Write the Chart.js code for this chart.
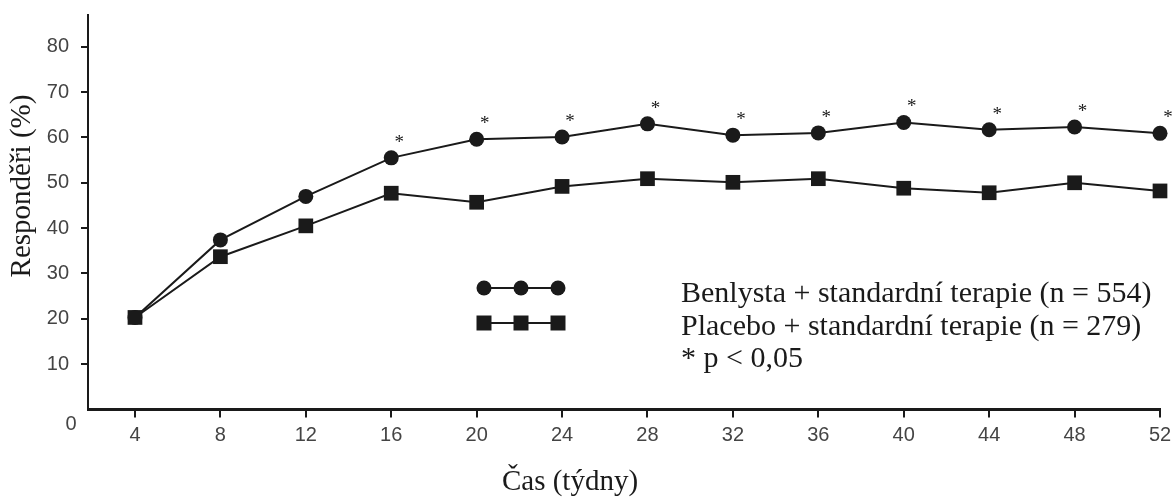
<!DOCTYPE html>
<html>
<head>
<meta charset="utf-8">
<script src="https://cdn.jsdelivr.net/npm/chart.js@4"></script>
<style>
  html, body { margin: 0; padding: 0; background: #fff; }
  #wrap { width: 1176px; height: 497px; position: relative; }
</style>
</head>
<body>
<div id="wrap"><canvas id="chart" width="1176" height="497"></canvas></div>
<script>
// ---- data ----
const weeks = [4, 8, 12, 16, 20, 24, 28, 32, 36, 40, 44, 48, 52];
const benlysta = [20.3, 37.4, 47.0, 55.5, 59.6, 60.1, 63.0, 60.5, 61.0, 63.3, 61.7, 62.3, 60.9];
const placebo = [20.3, 33.7, 40.5, 47.7, 45.7, 49.2, 50.9, 50.1, 50.9, 48.8, 47.8, 50.0, 48.2];
const significant = [0, 0, 0, 1, 1, 1, 1, 1, 1, 1, 1, 1, 1]; // * p < 0,05
const yTicks = [10, 20, 30, 40, 50, 60, 70, 80];

const legendLabels = [
  'Benlysta + standardní terapie (n = 554)',
  'Placebo + standardní terapie (n = 279)',
  '* p < 0,05'
];
const yTitle = 'Responděři (%)';
const xTitle = 'Čas (týdny)';

const INK = '#1a1a1a';
const SERIF = '"Liberation Serif", "Times New Roman", serif';
const SANS = '"Liberation Sans", Arial, sans-serif';

// titles, stars, legend, the lone "0" label
const extras = {
  id: 'extras',
  afterDraw(chart) {
    const { ctx, chartArea } = chart;
    ctx.save();
    ctx.fillStyle = INK;

    // stars above significant Benlysta points
    ctx.font = '19px ' + SERIF;
    ctx.textAlign = 'center';
    ctx.textBaseline = 'middle';
    chart.getDatasetMeta(0).data.forEach((p, i) => {
      if (significant[i]) ctx.fillText('*', p.x + 8, p.y - 15);
    });

    // "0" sits below-left of the origin
    ctx.fillStyle = '#444';
    ctx.font = '20px ' + SANS;
    ctx.fillText('0', 71, chartArea.bottom + 15);

    // axis titles
    ctx.fillStyle = INK;
    ctx.font = '29px ' + SERIF;
    ctx.textBaseline = 'alphabetic';
    ctx.fillText(xTitle, 570, 490);
    ctx.save();
    ctx.translate(30, 186);
    ctx.rotate(-Math.PI / 2);
    ctx.fillText(yTitle, 0, 0);
    ctx.restore();

    // legend
    const rows = [288, 323];
    const mx = [484, 521, 558];
    ctx.strokeStyle = INK;
    ctx.lineWidth = 2;
    rows.forEach((ry, r) => {
      ctx.beginPath();
      ctx.moveTo(mx[0], ry);
      ctx.lineTo(mx[2], ry);
      ctx.stroke();
      mx.forEach(cx => {
        ctx.beginPath();
        if (r === 0) ctx.arc(cx, ry, 7.5, 0, Math.PI * 2);
        else ctx.rect(cx - 7.5, ry - 7.5, 15, 15);
        ctx.fill();
      });
    });
    ctx.font = '30px ' + SERIF;
    ctx.textAlign = 'left';
    const baselines = [302, 335, 367];
    legendLabels.forEach((t, i) => ctx.fillText(t, 681, baselines[i]));

    ctx.restore();
  }
};

new Chart(document.getElementById('chart'), {
  type: 'line',
  data: {
    datasets: [
      {
        label: legendLabels[0],
        data: weeks.map((w, i) => ({ x: w, y: benlysta[i] })),
        borderColor: INK, backgroundColor: INK,
        borderWidth: 2, pointStyle: 'circle', pointRadius: 7.5,
        pointBorderWidth: 0, tension: 0, clip: false
      },
      {
        label: legendLabels[1],
        data: weeks.map((w, i) => ({ x: w, y: placebo[i] })),
        borderColor: INK, backgroundColor: INK,
        borderWidth: 2, pointStyle: 'rect', pointRadius: 10.4,
        pointBorderWidth: 0, tension: 0, clip: false
      }
    ]
  },
  options: {
    responsive: false,
    animation: false,
    layout: { padding: { top: 15, right: 16, left: 0, bottom: 0 } },
    plugins: { legend: { display: false }, tooltip: { enabled: false } },
    scales: {
      x: {
        type: 'linear', min: 1.8, max: 52,
        afterBuildTicks: s => { s.ticks = weeks.map(v => ({ value: v })); },
        afterFit: s => { s.height = 87.5; s.paddingLeft = 0; s.paddingRight = 0; },
        border: { color: INK, width: 3 },
        grid: { drawOnChartArea: false, color: INK, tickLength: 8, lineWidth: 2 },
        ticks: { color: '#444', font: { family: SANS, size: 20 }, padding: 6, maxRotation: 0, autoSkip: false }
      },
      y: {
        min: 0, max: 87,
        afterBuildTicks: s => { s.ticks = yTicks.map(v => ({ value: v })); },
        afterFit: s => { s.width = 88; s.paddingTop = 0; s.paddingBottom = 0; },
        border: { color: INK, width: 2 },
        grid: { drawOnChartArea: false, color: INK, tickLength: 7, lineWidth: 2 },
        ticks: { color: '#444', font: { family: SANS, size: 20 }, padding: 12 }
      }
    }
  },
  plugins: [extras]
});
</script>
</body>
</html>
